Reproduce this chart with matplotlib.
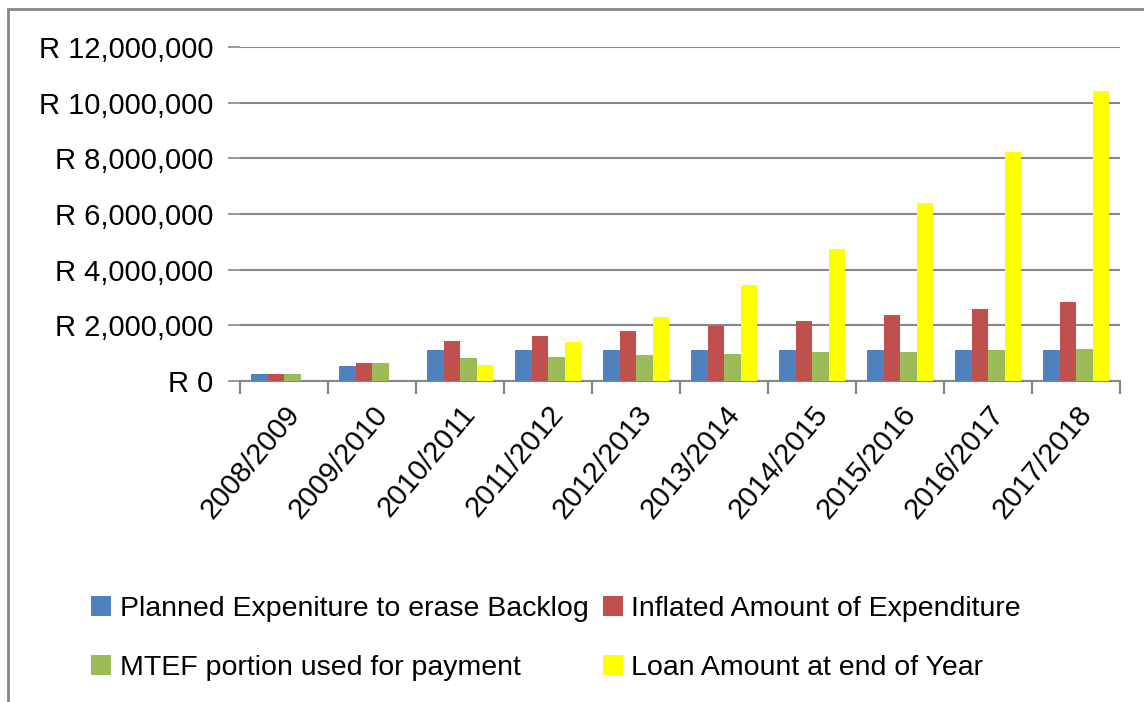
"""
Backlog expenditure vs loan amount, grouped bars
"""

import matplotlib.pyplot as plt
import numpy as np
from matplotlib.ticker import FuncFormatter, FixedLocator
from matplotlib.patches import Rectangle

# data
years = ["2008/2009", "2009/2010", "2010/2011", "2011/2012", "2012/2013",
         "2013/2014", "2014/2015", "2015/2016", "2016/2017", "2017/2018"]
planned = [250000, 540000, 1120000, 1120000, 1120000,
           1120000, 1120000, 1120000, 1120000, 1120000]
inflated = [250000, 660000, 1440000, 1620000, 1800000,
            1980000, 2160000, 2370000, 2590000, 2840000]
mtef = [250000, 660000, 830000, 860000, 940000,
        970000, 1040000, 1040000, 1120000, 1150000]
loan = [0, 0, 580000, 1400000, 2300000,
        3450000, 4750000, 6400000, 8240000, 10430000]

series = [
    ("Planned Expeniture to erase Backlog", planned, "#4F81BD"),
    ("Inflated Amount of Expenditure", inflated, "#C0504D"),
    ("MTEF portion used for payment", mtef, "#9BBB59"),
    ("Loan Amount at end of Year", loan, "#FFFF00"),
]

if __name__ == "__main__":
    plt.rcParams['font.family'] = ['Liberation Sans', 'DejaVu Sans']
    grid_c = "#868686"

    fig = plt.figure(figsize=(11.44, 7.02), dpi=100)
    ax = fig.add_axes([240 / 1144, 1 - 381 / 702, 880 / 1144, 334 / 702])

    # outer chart border (runs off the right and bottom of the image)
    fig.patches.append(Rectangle((8 / 1144, -0.1), 1.2, 1 - 9 / 702 + 0.1,
                                 transform=fig.transFigure, fill=False,
                                 edgecolor=grid_c, linewidth=2))

    x = np.arange(len(years))
    w = 0.1875
    handles = []
    for j, (name, vals, col) in enumerate(series):
        b = ax.bar(x + (j - 1.5) * w, vals, width=w, color=col, label=name, zorder=3)
        handles.append(b)

    ax.set_xlim(-0.5, len(years) - 0.5)
    ax.set_ylim(0, 12000000)
    ax.set_yticks(np.arange(0, 12000001, 2000000))
    ax.yaxis.set_major_formatter(FuncFormatter(lambda v, p: "R {:,}".format(int(v))))
    ax.yaxis.grid(True, color=grid_c, linewidth=1.5, zorder=0)

    ax.set_xticks(x)
    ax.set_xticklabels(years, rotation=50, ha="right", va="top", rotation_mode="anchor")
    ax.xaxis.set_minor_locator(FixedLocator(np.arange(-0.5, len(years), 1.0)))
    ax.tick_params(axis="x", which="major", length=0, pad=14, labelsize=21)
    ax.tick_params(axis="x", which="minor", length=9, color=grid_c, width=1.5)
    ax.tick_params(axis="y", length=9, color=grid_c, width=1.2, labelsize=21, pad=10)

    for s in ["top", "right", "left"]:
        ax.spines[s].set_visible(False)
    ax.spines["bottom"].set_color(grid_c)
    ax.spines["bottom"].set_linewidth(1.5)

    order = [0, 2, 1, 3]
    fig.legend([handles[i] for i in order], [series[i][0] for i in order],
               ncol=2, loc="upper left", bbox_to_anchor=(80 / 1144, 1 - 585 / 702),
               frameon=False, fontsize=20.5, handlelength=0.7, handleheight=0.7,
               handletextpad=0.3, columnspacing=0.5, labelspacing=1.15,
               borderaxespad=0)

    fig.savefig("out.png", dpi=100)
